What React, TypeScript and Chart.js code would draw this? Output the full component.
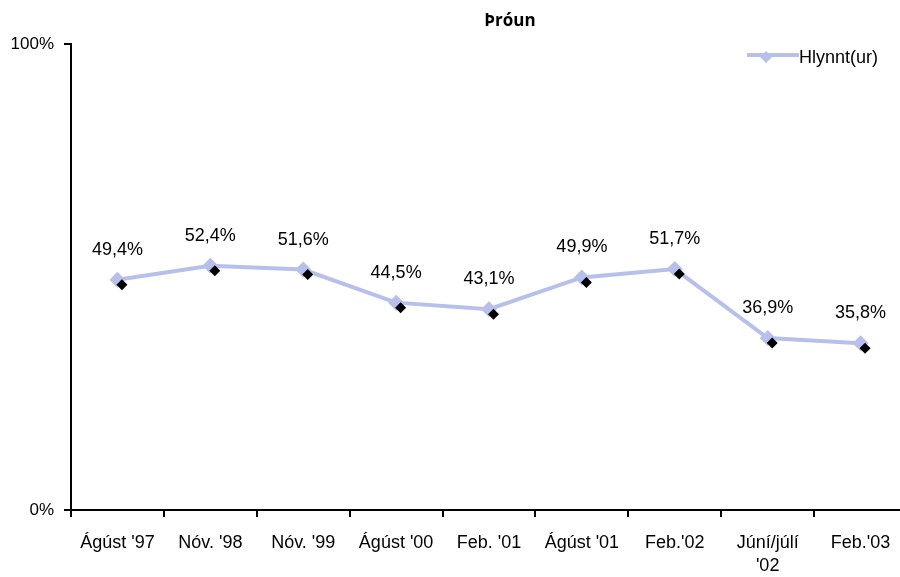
import React, { useEffect, useRef } from "react";
import { Chart, registerables } from "chart.js";

Chart.register(...registerables);

const categories: (string | string[])[] = [
  "Ágúst '97",
  "Nóv. '98",
  "Nóv. '99",
  "Ágúst '00",
  "Feb. '01",
  "Ágúst '01",
  "Feb.'02",
  ["Júní/júlí", "'02"],
  "Feb.'03",
];
const values: number[] = [49.4, 52.4, 51.6, 44.5, 43.1, 49.9, 51.7, 36.9, 35.8];
const seriesName = "Hlynnt(ur)";
const titleText = "Þróun";
const yTickLabels: Record<number, string> = { 0: "0%", 100: "100%" };

const FONT = "'Liberation Sans', Arial, sans-serif";
const LINE = "#b6c0ea";

function diamond(ctx: CanvasRenderingContext2D, x: number, y: number, r: number) {
  ctx.beginPath();
  ctx.moveTo(x, y - r);
  ctx.lineTo(x + r, y);
  ctx.lineTo(x, y + r);
  ctx.lineTo(x - r, y);
  ctx.closePath();
  ctx.fill();
}

export default function App() {
  const ref = useRef<HTMLCanvasElement | null>(null);
  useEffect(() => {
    if (!ref.current) return;
    const extras = {
      id: "extras",
      afterDatasetsDraw(chart: any) {
        const ctx = chart.ctx as CanvasRenderingContext2D;
        const meta = chart.getDatasetMeta(0);
        ctx.save();
        meta.data.forEach((pt: any, i: number) => {
          ctx.fillStyle = "#000";
          diamond(ctx, pt.x + 4.5, pt.y + 5, 5.5);
          ctx.fillStyle = "#000";
          ctx.font = `18px ${FONT}`;
          ctx.textAlign = "center";
          ctx.textBaseline = "middle";
          ctx.fillText(values[i].toFixed(1).replace(".", ",") + "%", pt.x, pt.y - 30);
        });
        // title
        ctx.font = `bold 17px 'Open Sans', ${FONT}`;
        ctx.textAlign = "center";
        ctx.fillText(titleText, 510, 21);
        // legend
        ctx.strokeStyle = LINE;
        ctx.lineWidth = 4;
        ctx.beginPath();
        ctx.moveTo(747, 55);
        ctx.lineTo(799, 55);
        ctx.stroke();
        ctx.fillStyle = LINE;
        diamond(ctx, 766, 57, 6);
        ctx.fillStyle = "#000";
        ctx.font = `18px ${FONT}`;
        ctx.textAlign = "left";
        ctx.fillText(seriesName, 799, 58);
        ctx.restore();
      },
    };
    const chart = new Chart(ref.current, {
      type: "line",
      data: {
        labels: categories as any,
        datasets: [
          {
            label: seriesName,
            data: values,
            borderColor: LINE,
            backgroundColor: LINE,
            borderWidth: 4,
            pointStyle: "rectRot",
            pointRadius: 8,
            pointBackgroundColor: LINE,
            pointBorderWidth: 0,
            tension: 0,
          },
        ],
      },
      options: {
        animation: false,
        responsive: false,
        layout: { padding: { top: 44, right: 13, left: 0, bottom: 0 } },
        plugins: { legend: { display: false }, title: { display: false }, tooltip: { enabled: false } },
        scales: {
          x: {
            offset: true,
            grid: { offset: true, drawOnChartArea: false, drawTicks: true, tickLength: 7, color: "#000", lineWidth: 2 },
            border: { color: "#000", width: 2 },
            ticks: { color: "#000", font: { family: FONT, size: 18, lineHeight: 1.3 }, maxRotation: 0, autoSkip: false, padding: 14 },
            afterFit(scale: any) {
              scale.height = 67;
            },
          },
          y: {
            min: 0,
            max: 100,
            grid: { drawOnChartArea: false, drawTicks: true, tickLength: 7, color: "#000", lineWidth: 2 },
            border: { color: "#000", width: 2 },
            ticks: {
              stepSize: 100,
              color: "#000",
              font: { family: FONT, size: 17 },
              padding: 10,
              callback: (v: any) => yTickLabels[v as number] ?? "",
            },
            afterFit(scale: any) {
              scale.width = 71;
            },
          },
        },
      },
      plugins: [extras],
    } as any);
    return () => chart.destroy();
  }, []);
  return (
    <div style={{ position: "fixed", left: 0, top: 0, width: 900, height: 577, overflow: "hidden", background: "#fff" }}>
      <canvas ref={ref} width={920} height={577} style={{ width: 920, height: 577 }} />
    </div>
  );
}
